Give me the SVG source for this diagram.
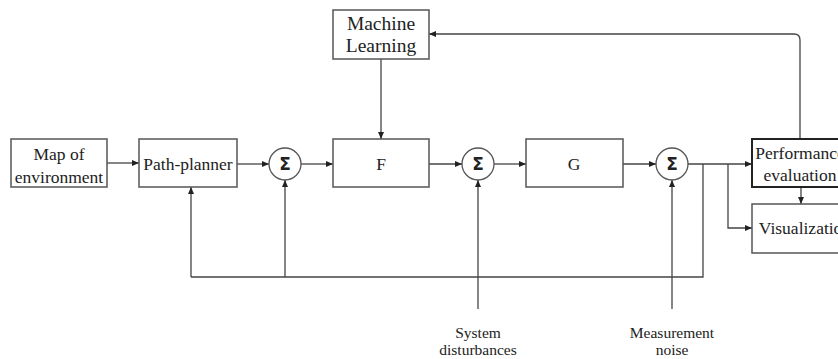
<svg xmlns="http://www.w3.org/2000/svg" width="838" height="359" viewBox="0 0 838 359">
<defs>
<marker id="ah" markerWidth="8" markerHeight="8" refX="7" refY="4" orient="auto" markerUnits="userSpaceOnUse">
<path d="M0,1 L7,4 L0,7 Z" fill="#222"/>
</marker>
<style>
.box{fill:#fff;stroke:#555;stroke-width:1.5}
.boxd{fill:#fff;stroke:#222;stroke-width:2}
.sum{fill:#fff;stroke:#555;stroke-width:1.3}
.t{font-family:"Liberation Serif","Times New Roman",serif;font-size:17.5px;fill:#222;text-anchor:middle}
.tl{font-family:"Liberation Serif","Times New Roman",serif;font-size:19.5px;fill:#222;text-anchor:middle}
.ts{font-family:"Liberation Serif","Times New Roman",serif;font-size:15.5px;fill:#222;text-anchor:middle}
.sig{font-family:"DejaVu Sans","Liberation Sans",sans-serif;font-size:17px;font-weight:bold;fill:#222;text-anchor:middle}
.c{fill:none;stroke:#444;stroke-width:1.3}
.ca{fill:none;stroke:#444;stroke-width:1.3;marker-end:url(#ah)}
</style>
</defs>
<rect width="838" height="359" fill="#fff"/>
<g id="connectors">
<path class="ca" d="M107,163 H139"/>
<path class="ca" d="M237,164 H269"/>
<path class="ca" d="M301,164 H333"/>
<path class="ca" d="M429,164 H462"/>
<path class="ca" d="M494,164 H526"/>
<path class="ca" d="M623,164 H656"/>
<path class="ca" d="M688,164 H752"/>
<path class="ca" d="M381,59 V139"/>
<path class="ca" d="M800,139 V40 Q800,34 794,34 H429"/>
<path class="ca" d="M801,188 V204"/>
<path class="ca" d="M728,164 V228 H752"/>
<path class="c" d="M703,164 V277 H191"/>
<path class="ca" d="M191,277 V187"/>
<path class="ca" d="M285,277 V180"/>
<path class="ca" d="M478,309 V180"/>
<path class="ca" d="M672,309 V180"/>
</g>
<g id="map">
<rect class="box" x="11" y="139" width="96" height="48"/>
<text class="t" x="59" y="160">Map of</text>
<text class="t" x="59" y="183">environment</text>
</g>
<g id="path-planner">
<rect class="box" x="139" y="139" width="98" height="48"/>
<text class="t" x="188" y="170">Path-planner</text>
</g>
<g id="sum1">
<circle class="sum" cx="285" cy="164" r="16"/>
<text class="sig" x="285" y="170">Σ</text>
</g>
<g id="machine-learning">
<rect class="box" x="333" y="10" width="96" height="49"/>
<text class="tl" x="381" y="30">Machine</text>
<text class="tl" x="381" y="52">Learning</text>
</g>
<g id="F">
<rect class="box" x="333" y="139" width="96" height="48"/>
<text class="t" x="381" y="170">F</text>
</g>
<g id="sum2">
<circle class="sum" cx="478" cy="164" r="16"/>
<text class="sig" x="478" y="170">Σ</text>
</g>
<g id="G">
<rect class="box" x="526" y="139" width="97" height="48"/>
<text class="t" x="574" y="170">G</text>
</g>
<g id="sum3">
<circle class="sum" cx="672" cy="164" r="16"/>
<text class="sig" x="672" y="170">Σ</text>
</g>
<g id="performance">
<rect class="boxd" x="752" y="139" width="96" height="48"/>
<text class="t" x="800" y="159">Performance</text>
<text class="t" x="800" y="181">evaluation</text>
</g>
<g id="visualization">
<rect class="box" x="752" y="204" width="96" height="49"/>
<text class="t" x="805" y="234">Visualization</text>
</g>
<g id="system-disturbances">
<text class="ts" x="478" y="338">System</text>
<text class="ts" x="478" y="355">disturbances</text>
</g>
<g id="measurement-noise">
<text class="ts" x="672" y="338">Measurement</text>
<text class="ts" x="672" y="355">noise</text>
</g>
</svg>
